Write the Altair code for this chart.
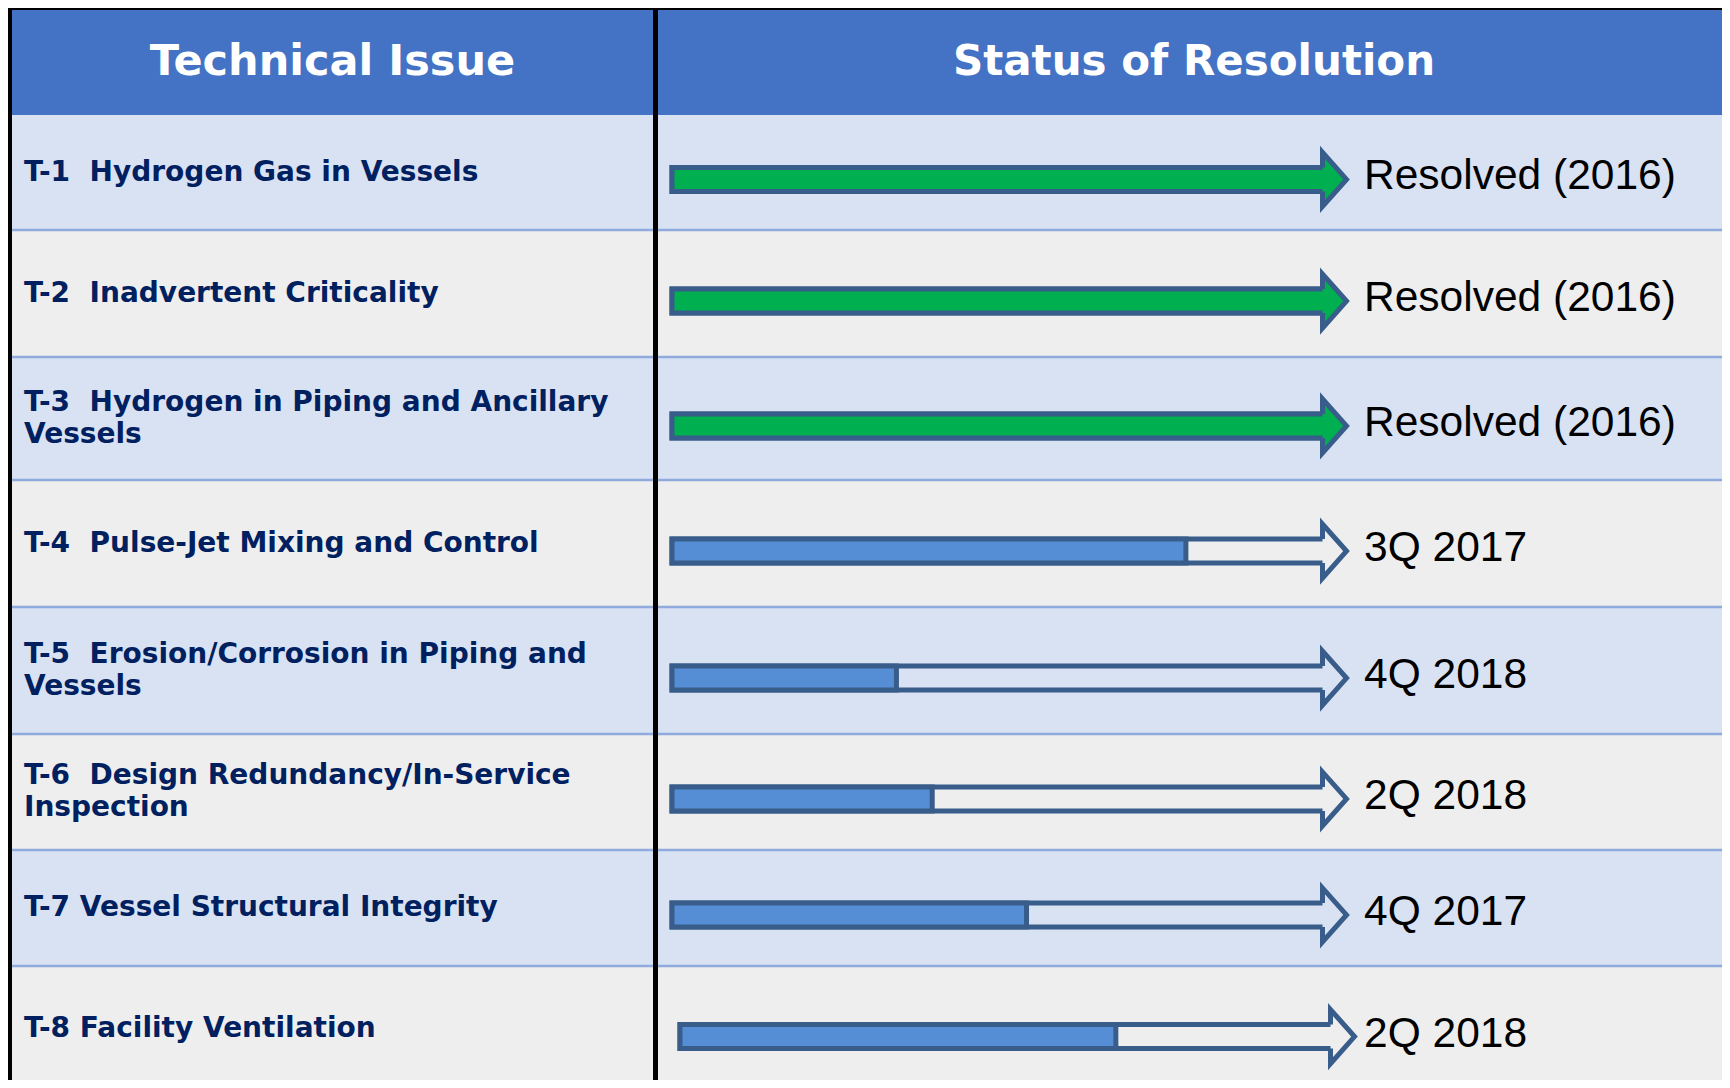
import altair as alt
import pandas as pd

# ---------------- data ----------------
issue_labels = [
    "T-1\u00a0 Hydrogen Gas in Vessels",
    "T-2\u00a0 Inadvertent Criticality",
    "T-3\u00a0 Hydrogen in Piping and Ancillary\nVessels",
    "T-4\u00a0 Pulse-Jet Mixing and Control",
    "T-5\u00a0 Erosion/Corrosion in Piping and\nVessels",
    "T-6\u00a0 Design Redundancy/In-Service\nInspection",
    "T-7 Vessel Structural Integrity",
    "T-8 Facility Ventilation",
]
status_labels = [
    "Resolved (2016)", "Resolved (2016)", "Resolved (2016)",
    "3Q 2017", "4Q 2018", "2Q 2018", "4Q 2017", "2Q 2018",
]
progress = [1.0, 1.0, 1.0, 0.79, 0.345, 0.40, 0.545, 0.67]
resolved = [True, True, True, False, False, False, False, False]
header_labels = ["Technical Issue", "Status of Resolution"]

# ---------------- layout / style (reference pixel space) ----------------
ROW_EDGES = [113, 228, 355, 478, 605, 732, 848, 964, 1090]
TABLE_LEFT = 9
TABLE_TOP = 7
TABLE_RIGHT = 1740
DIVIDER = 654.5
ARROW_X0 = 671
ARROW_BASE = 1321.5
ARROW_SHIFT = [0, 0, 0, 0, 0, 0, 0, 8]
SHAFT_HALF = 12
ARROW_FRAC = 0.56
STATUS_X = 1363
LABEL_X = 23
LABEL_LINE_H = 32
HEADER_CENTERS = [331.5, 1193]

HEADER_BLUE = "#4472C4"
LIGHT_BLUE = "#D9E2F3"
GRAY = "#EEEEEE"
SEP = "#8FAADC"
NAVY = "#002060"
OUTLINE = "#385D8A"
GREEN = "#00B050"
BLUE = "#558ED5"

W, H = 1714, 1072
xs = alt.Scale(domain=[7, 7 + W], nice=False, zero=False)
ys = alt.Scale(domain=[6, 6 + H], nice=False, zero=False, reverse=True)

# ---------------- table built from the arrays ----------------
n = len(issue_labels)
rows = pd.DataFrame({
    "i": list(range(n)),
    "issue": issue_labels,
    "status": status_labels,
    "progress": progress,
    "resolved": resolved,
    "shift": ARROW_SHIFT,
})
rows["top"] = ROW_EDGES[:-1]
rows["bottom"] = ROW_EDGES[1:]
rows["mid"] = (rows["top"] + rows["bottom"]) / 2
rows["nlines"] = [s.count("\n") + 1 for s in rows["issue"]]
rows["label_y"] = rows["mid"] - (rows["nlines"] - 1) * LABEL_LINE_H / 2
rows["ac"] = rows["top"] + ARROW_FRAC * (rows["bottom"] - rows["top"])
rows["sy0"] = rows["ac"] - SHAFT_HALF
rows["sy1"] = rows["ac"] + SHAFT_HALF
rows["ax0"] = ARROW_X0 + rows["shift"]
rows["abase"] = ARROW_BASE + rows["shift"]
rows["shaft_end"] = rows["abase"] + 6
rows["fill_end"] = [
    se if r else a0 + p * (ab - a0)
    for se, r, a0, p, ab in zip(rows["shaft_end"], rows["resolved"], rows["ax0"], rows["progress"], rows["abase"])
]
rows["band"] = [LIGHT_BLUE if i % 2 == 0 else GRAY for i in rows["i"]]
rows["head_fill"] = [GREEN if r else b for r, b in zip(rows["resolved"], rows["band"])]
rows["prog_fill"] = [GREEN if r else BLUE for r in rows["resolved"]]
rows["ty"] = rows["ac"] - 3
rows["x_left"] = TABLE_LEFT
rows["x_right"] = TABLE_RIGHT
rows["label_x"] = LABEL_X
rows["status_x"] = STATUS_X

header = pd.DataFrame({
    "label": header_labels,
    "cx": HEADER_CENTERS,
    "cy": [60, 60],
    "fs": [43, 42],
})
header_band = pd.DataFrame({"x0": [TABLE_LEFT], "x1": [TABLE_RIGHT], "y0": [TABLE_TOP], "y1": [ROW_EDGES[0]]})
seps = pd.DataFrame({"y": ROW_EDGES[1:-1], "x0": TABLE_LEFT, "x1": TABLE_RIGHT})
vlines = pd.DataFrame({"x": [TABLE_LEFT, DIVIDER], "y0": [5, 5], "y1": [1090, 1090], "w": [4, 5]})
hline = pd.DataFrame({"y": [6.5], "x0": [7], "x1": [TABLE_RIGHT]})


def X(f):
    return alt.X(f"{f}:Q", scale=xs, axis=None)


def Y(f):
    return alt.Y(f"{f}:Q", scale=ys, axis=None)


bands = alt.Chart(rows).mark_rect().encode(
    x=X("x_left"), x2="x_right", y=Y("top"), y2="bottom",
    fill=alt.Fill("band:N", scale=None),
)
head_rect = alt.Chart(header_band).mark_rect(color=HEADER_BLUE).encode(
    x=X("x0"), x2="x1", y=Y("y0"), y2="y1",
)
sep_rules = alt.Chart(seps).mark_rule(color=SEP, strokeWidth=2.5).encode(
    x=X("x0"), x2="x1", y=Y("y"),
)
v_rules = alt.Chart(vlines).mark_rule(color="black").encode(
    x=X("x"), y=Y("y0"), y2="y1", strokeWidth=alt.StrokeWidth("w:Q", scale=None),
)
h_rule = alt.Chart(hline).mark_rule(color="black", strokeWidth=3).encode(
    x=X("x0"), x2="x1", y=Y("y"),
)
header_text = alt.Chart(header).mark_text(
    font="DejaVu Sans", fontWeight="bold", color="white",
    align="center", baseline="middle",
).encode(x=X("cx"), y=Y("cy"), text="label:N",
         size=alt.Size("fs:Q", scale=None))

labels = alt.Chart(rows).mark_text(
    font="DejaVu Sans", fontWeight="bold", fontSize=28, color=NAVY,
    align="left", baseline="middle", lineBreak="\n", lineHeight=LABEL_LINE_H,
).encode(x=X("label_x"), y=Y("label_y"), text="issue:N")

shaft = alt.Chart(rows).mark_rect(
    fillOpacity=0, stroke=OUTLINE, strokeWidth=5, strokeJoin="miter",
).encode(x=X("ax0"), x2="shaft_end", y=Y("sy0"), y2="sy1")

prog = alt.Chart(rows).mark_rect(
    stroke=OUTLINE, strokeWidth=5, strokeJoin="miter",
).encode(
    x=X("ax0"), x2="fill_end", y=Y("sy0"), y2="sy1",
    fill=alt.Fill("prog_fill:N", scale=None),
)

heads = alt.Chart(rows).mark_point(
    shape="M0,-12L0,-27L24,0L0,27L0,12", size=4, filled=True, opacity=1,
    stroke=OUTLINE, strokeWidth=5, strokeJoin="miter",
).encode(
    x=X("abase"), y=Y("ac"),
    fill=alt.Fill("head_fill:N", scale=None),
)

status = alt.Chart(rows).mark_text(
    font="Liberation Sans", fontSize=42.5, color="black",
    align="left", baseline="middle",
).encode(x=X("status_x"), y=Y("ty"), text="status:N")

chart = alt.layer(
    bands, head_rect, sep_rules, labels, header_text,
    shaft, prog, heads, status, v_rules, h_rule,
).properties(
    width=W, height=H, padding=0,
    autosize=alt.AutoSizeParams(type="none"),
    background=GRAY,
).configure_view(stroke=None)

chart.save("out.html", embed_options={"renderer": "svg", "actions": False})
